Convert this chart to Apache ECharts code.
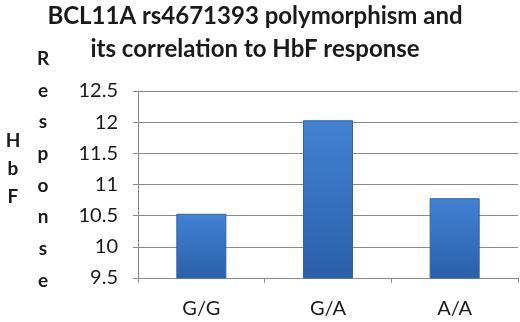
<!DOCTYPE html>
<html>
<head>
    <meta charset="utf-8">
    <title>BCL11A</title>
    <script src="https://cdn.jsdelivr.net/npm/echarts@6/dist/echarts.min.js"></script>
</head>
<body style="margin:0">
    <div id="main" style="width:520px;height:322px;"></div>
    <script type="text/javascript">
        // genotypes and HbF response
        var genotypes = ['G/G', 'G/A', 'A/A'];
        var hbfResponse = [10.53, 12.03, 10.78];
        var yMin = 9.5, yMax = 12.5, yStep = 0.5;

        var myChart = echarts.init(document.getElementById('main'));

        var barColor = new echarts.graphic.LinearGradient(0, 0, 0, 1, [
            {offset: 0, color: '#4283d3'},
            {offset: 1, color: '#2b5fa9'}
        ]);

        var option = {
            animation: false,
            title: [
                {
                    text: 'BCL11A rs4671393 polymorphism and\nits correlation to HbF response',
                    left: 250, top: -5, textAlign: 'center',
                    textStyle: {fontFamily: 'Lato', fontWeight: 'bold', fontSize: 24, lineHeight: 33, color: '#1a1a1a'}
                },
                {
                    text: 'H\nb\nF',
                    left: 8, top: 122, textAlign: 'center',
                    textStyle: {fontFamily: 'Lato', fontWeight: 'bold', fontSize: 19, lineHeight: 28, color: '#1a1a1a'}
                },
                {
                    text: 'R\ne\ns\np\no\nn\ns\ne',
                    left: 38, top: 38, textAlign: 'center',
                    textStyle: {fontFamily: 'Lato', fontWeight: 'bold', fontSize: 19, lineHeight: 31.7, color: '#1a1a1a'}
                }
            ],
            grid: {left: 138, right: 2, top: 91, bottom: 44},
            xAxis: {
                type: 'category',
                data: genotypes,
                axisLine: {lineStyle: {color: '#8a8a8a'}},
                axisTick: {show: true, length: 5, lineStyle: {color: '#8a8a8a'}},
                axisLabel: {fontFamily: 'Lato', fontSize: 20, color: '#1a1a1a', margin: 21}
            },
            yAxis: {
                type: 'value',
                min: yMin, max: yMax, interval: yStep,
                axisLine: {show: true, lineStyle: {color: '#8a8a8a'}},
                axisTick: {show: true, length: 5, lineStyle: {color: '#8a8a8a'}},
                axisLabel: {fontFamily: 'Lato', fontSize: 20, color: '#1a1a1a', margin: 20},
                splitLine: {lineStyle: {color: '#8a8a8a'}}
            },
            series: [{
                type: 'bar',
                data: hbfResponse,
                barWidth: 50,
                itemStyle: {color: barColor, borderColor: '#2e62ab', borderWidth: 1}
            }]
        };

        myChart.setOption(option);
    </script>
</body>
</html>
